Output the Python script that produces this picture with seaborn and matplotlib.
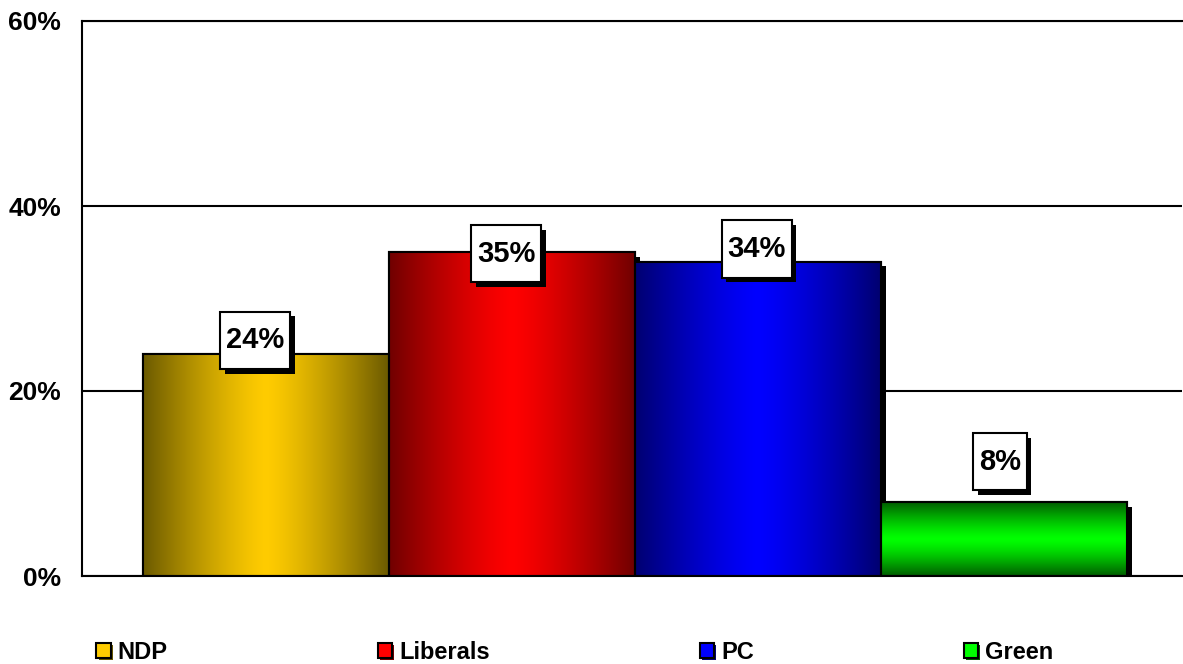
import numpy as np
import pandas as pd
import matplotlib
matplotlib.use('Agg')
import matplotlib.pyplot as plt
import matplotlib.patheffects as pe
from matplotlib.patches import Patch, Rectangle
from matplotlib.path import Path
from matplotlib.ticker import PercentFormatter
import seaborn as sns

# Data
parties = ['NDP', 'Liberals', 'PC', 'Green']
shares = [24, 35, 34, 8]
center_colors = ['#FFCC00', '#FF0000', '#0000FF', '#00FF00']
edge_colors = ['#6B5A00', '#700000', '#000070', '#005C00']
gradient_dirs = ['h', 'h', 'h', 'v']
# label box offsets from the bar top (points), as placed in the original
label_dx = [-8, -4, -1, -3]
label_dy = [10, -1, 9, 29]
yticks = [0, 20, 40, 60]

sns.set_style('white')
plt.rcParams['font.family'] = ['Liberation Sans', 'DejaVu Sans']
plt.rcParams['font.weight'] = 'bold'
for k in ['text.color', 'axes.labelcolor', 'xtick.color', 'ytick.color']:
    plt.rcParams[k] = 'black'

df = pd.DataFrame({'party': parties, 'share': shares})

fig = plt.figure(figsize=(11.83, 6.64), dpi=100)
ax = fig.add_axes([82 / 1183, 88 / 664, 1100 / 1183, 555 / 664])

sns.barplot(data=df, x='party', y='share', hue='party', palette=center_colors,
            width=1.0, edgecolor='black', linewidth=1.5, legend=False, ax=ax,
            zorder=2)

shadow = [pe.SimplePatchShadow(offset=(3.5, -3.5), shadow_rgbFace='black', alpha=1.0),
          pe.Normal()]

for patch, c0, c1, d in zip(ax.patches, center_colors, edge_colors, gradient_dirs):
    patch.set_path_effects(shadow)
    x0, y0 = patch.get_x(), patch.get_y()
    w, h = patch.get_width(), patch.get_height()
    t = np.abs(np.linspace(-1, 1, 256)) ** 1.3
    a = np.array(matplotlib.colors.to_rgb(c0))
    b = np.array(matplotlib.colors.to_rgb(c1))
    cols = a[None, :] * (1 - t[:, None]) + b[None, :] * t[:, None]
    img = cols[None, :, :] if d == 'h' else cols[:, None, :]
    im = ax.imshow(img, extent=(x0, x0 + w, y0, y0 + h), aspect='auto',
                   interpolation='bilinear', zorder=2.1)
    im.set_clip_path(patch)
    ax.add_patch(Rectangle((x0, y0), w, h, fill=False, edgecolor='black',
                           linewidth=1.5, zorder=2.2))


def label_box(x0, y0, width, height, mutation_size):
    # taller than wide padding, like the original label boxes
    px, py = 0.2 * mutation_size, 0.5 * mutation_size
    x0, y0 = x0 - px, y0 - py
    x1, y1 = x0 + width + 2 * px, y0 + height + 2 * py
    return Path([(x0, y0), (x1, y0), (x1, y1), (x0, y1), (x0, y0)], closed=True)


# value labels in white boxes with a drop shadow
for i, (patch, v) in enumerate(zip(ax.patches[:len(shares)], shares)):
    xc = patch.get_x() + patch.get_width() / 2
    t = ax.annotate(f'{v}%', xy=(xc, v), xytext=(label_dx[i], label_dy[i]),
                    textcoords='offset points', ha='center', va='center',
                    fontsize=21, fontweight='bold', zorder=5,
                    bbox=dict(boxstyle=label_box, facecolor='white',
                              edgecolor='black', linewidth=1.5))
    t.get_bbox_patch().set_path_effects(
        [pe.SimplePatchShadow(offset=(3.5, -3.5), shadow_rgbFace='black', alpha=1.0),
         pe.Normal()])

ax.set_xlim(-0.748, 3.724)
ax.set_ylim(0, 60)
ax.set_yticks(yticks)
ax.yaxis.set_major_formatter(PercentFormatter(decimals=0))
ax.set_xticks([])
ax.set_xlabel('')
ax.set_ylabel('')
ax.tick_params(axis='y', direction='out', length=6, width=1.5, color='black',
               pad=9, labelsize=19, labelcolor='black')
for lab in ax.get_yticklabels():
    lab.set_fontweight('bold')

ax.set_axisbelow(True)
ax.yaxis.grid(True, color='black', linewidth=1.5)
for side in ['left', 'bottom', 'top']:
    ax.spines[side].set_visible(True)
    ax.spines[side].set_color('black')
    ax.spines[side].set_linewidth(1.5)
ax.spines['right'].set_visible(False)

handles = [Patch(facecolor=c, edgecolor='black', linewidth=1.5,
                 path_effects=[pe.SimplePatchShadow(offset=(1.5, -1.5),
                                                    shadow_rgbFace=e, alpha=1.0),
                               pe.Normal()])
           for c, e in zip(center_colors, edge_colors)]
fig.legend(handles, parties, loc='center', bbox_to_anchor=(0.486, 0.017),
           ncol=4, frameon=False, prop={'weight': 'bold', 'size': 17},
           labelcolor='black',
           handlelength=0.6, handleheight=0.6, handletextpad=0.3,
           columnspacing=8.9, borderpad=0)

fig.savefig('out.png', dpi=100)
